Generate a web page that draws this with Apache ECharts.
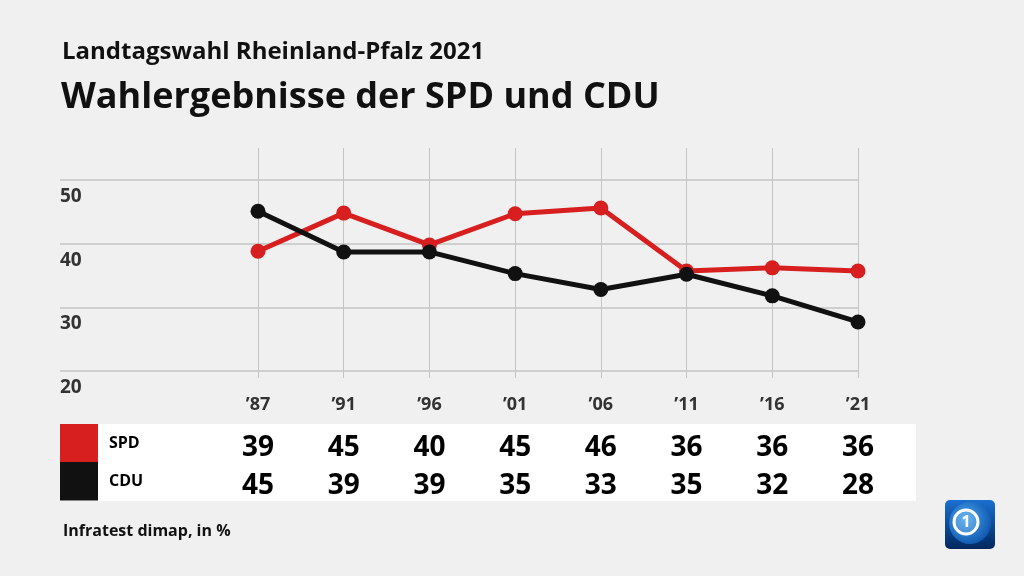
<!DOCTYPE html>
<html><head><meta charset="utf-8">
<script src="https://cdn.jsdelivr.net/npm/echarts@6/dist/echarts.min.js"></script>
<style>html,body{margin:0;padding:0;background:#f0f0f0}#c{width:1024px;height:576px}</style>
</head><body><div id="c"></div>
<script>
const categories = ['\u201987','\u201991','\u201996','\u201901','\u201906','\u201911','\u201916','\u201921'];
const spdValues = [38.8, 44.8, 39.8, 44.7, 45.6, 35.7, 36.2, 35.7];
const cduValues = [45.1, 38.7, 38.7, 35.3, 32.8, 35.2, 31.8, 27.7];
const spdTable = ['39','45','40','45','46','36','36','36'];
const cduTable = ['45','39','39','35','33','35','32','28'];
const yTicks = [20, 30, 40, 50];

const FONT = '"Open Sans", "Noto Sans", sans-serif';
const RED = '#d71f1f', BLACK = '#111111';
const chart = echarts.init(document.getElementById('c'));
const pxPerUnit = (371 - 180) / (yTicks[yTicks.length-1] - yTicks[0]);

chart.setOption({
  backgroundColor: '#f0f0f0',
  animation: false,
  textStyle: { fontFamily: FONT },
  title: [
    { text: 'Landtagswahl Rheinland-Pfalz 2021', left: 57, top: 35,
      textStyle: { fontFamily: FONT, fontSize: 24, fontWeight: 'bold', color: '#111' } },
    { text: 'Wahlergebnisse der SPD und CDU', left: 56, top: 75,
      textStyle: { fontFamily: FONT, fontSize: 36, fontWeight: 'bold', color: '#111' } },
    { text: 'Infratest dimap, in %', left: 58, top: 518,
      textStyle: { fontFamily: FONT, fontSize: 16, fontWeight: 'bold', color: '#111' } }
  ],
  grid: [
    { left: 60, right: 166, top: 180, bottom: 205 },
    { left: 258, right: 166, top: 148, bottom: 198 },
    { left: 258, right: 166, top: 180, bottom: 205 }
  ],
  xAxis: [
    { gridIndex: 0, type: 'value', show: false },
    { gridIndex: 1, type: 'category', data: categories, boundaryGap: false,
      axisLine: { show: false }, axisTick: { show: false },
      splitLine: { show: true, lineStyle: { color: '#c4c4c4', width: 1 } },
      axisLabel: { margin: 18, fontSize: 18, fontWeight: 'bold', color: '#333', fontFamily: FONT } },
    { gridIndex: 1, type: 'category', data: spdTable, boundaryGap: false, position: 'bottom',
      axisLine: { show: false }, axisTick: { show: false }, splitLine: { show: false },
      axisLabel: { margin: 70, verticalAlign: 'middle', fontSize: 28, fontWeight: 'bold', color: '#000', fontFamily: FONT } },
    { gridIndex: 1, type: 'category', data: cduTable, boundaryGap: false, position: 'bottom',
      axisLine: { show: false }, axisTick: { show: false }, splitLine: { show: false },
      axisLabel: { margin: 108, verticalAlign: 'middle', fontSize: 28, fontWeight: 'bold', color: '#000', fontFamily: FONT } },
    { gridIndex: 2, type: 'category', data: categories, boundaryGap: false, show: false }
  ],
  yAxis: [
    { gridIndex: 0, type: 'value', min: yTicks[0], max: yTicks[yTicks.length-1], interval: 10,
      axisLine: { show: false }, axisTick: { show: false },
      splitLine: { show: true, lineStyle: { color: '#c4c4c4', width: 1.5 } },
      axisLabel: { inside: true, margin: 0, align: 'left', verticalAlign: 'top', padding: [7,0,0,0],
        fontSize: 19, fontWeight: 'bold', color: '#333', fontFamily: FONT } },
    { gridIndex: 1, type: 'value', show: false,
      min: yTicks[0] - 7 / pxPerUnit, max: yTicks[yTicks.length-1] + 32 / pxPerUnit },
    { gridIndex: 2, type: 'value', show: false, min: yTicks[0], max: yTicks[yTicks.length-1] }
  ],
  series: [
    { name: 'SPD', type: 'line', xAxisIndex: 4, yAxisIndex: 2, data: spdValues, clip: false,
      symbol: 'circle', symbolSize: 15, lineStyle: { color: RED, width: 5 }, itemStyle: { color: RED }, z: 3 },
    { name: 'CDU', type: 'line', xAxisIndex: 4, yAxisIndex: 2, data: cduValues, clip: false,
      symbol: 'circle', symbolSize: 15, lineStyle: { color: BLACK, width: 5 }, itemStyle: { color: BLACK }, z: 4 }
  ],
  graphic: [
    { type: 'rect', shape: { x: 60, y: 424, width: 856, height: 77 }, style: { fill: '#ffffff' }, z: -1 },
    { type: 'rect', shape: { x: 60, y: 424, width: 38, height: 38 }, style: { fill: RED }, z: 1 },
    { type: 'rect', shape: { x: 60, y: 462, width: 38, height: 38.5 }, style: { fill: BLACK }, z: 1 },
    { type: 'text', x: 109, y: 443, style: { text: 'SPD', fill: '#000', font: 'bold 16px ' + FONT, textVerticalAlign: 'middle' }, z: 1 },
    { type: 'text', x: 109, y: 481, style: { text: 'CDU', fill: '#000', font: 'bold 16px ' + FONT, textVerticalAlign: 'middle' }, z: 1 },
    { type: 'rect', shape: { x: 945, y: 500, width: 50, height: 49, r: 5 },
      style: { fill: new echarts.graphic.LinearGradient(0,0,0,1,[{offset:0,color:'#1a6fd0'},{offset:1,color:'#00285e'}]) }, z: 1 },
    { type: 'circle', shape: { cx: 970, cy: 523, r: 21 },
      style: { fill: new echarts.graphic.RadialGradient(0.4,0.4,0.7,[{offset:0,color:'#4aa8f0'},{offset:1,color:'#0a4fa8'}]) }, z: 2 },
    { type: 'circle', shape: { cx: 966, cy: 522, r: 12 },
      style: { fill: 'rgba(255,255,255,0.15)', stroke: '#ffffff', lineWidth: 3 }, z: 3 },
    { type: 'text', x: 966, y: 522, style: { text: '1', fill: '#fff', font: 'bold 16px ' + FONT, textAlign: 'center', textVerticalAlign: 'middle' }, z: 4 }
  ]
});
</script></body></html>
